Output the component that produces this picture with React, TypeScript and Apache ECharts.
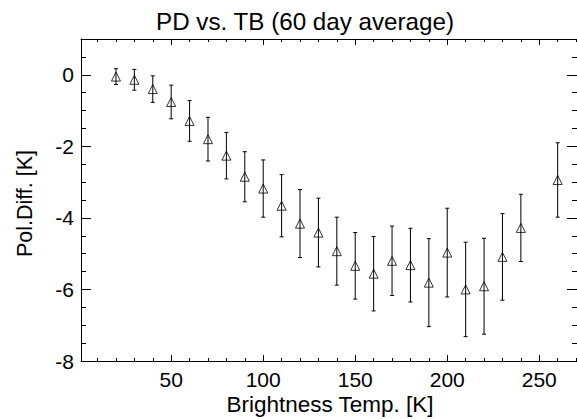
import React, { useEffect, useRef } from "react";
import * as echarts from "echarts";

const temps = [20, 30, 40, 50, 60, 70, 80, 90, 100, 110, 120, 130, 140, 150, 160, 170, 180, 190, 200, 210, 220, 230, 240, 260];
const pdMean = [-0.05, -0.14, -0.4, -0.76, -1.29, -1.8, -2.26, -2.85, -3.18, -3.66, -4.16, -4.41, -4.93, -5.34, -5.56, -5.2, -5.32, -5.81, -4.97, -6.0, -5.91, -5.09, -4.28, -2.94];
const pdErr = [0.22, 0.29, 0.37, 0.47, 0.57, 0.61, 0.65, 0.7, 0.8, 0.87, 0.95, 0.96, 0.95, 0.93, 1.04, 0.97, 1.03, 1.23, 1.24, 1.32, 1.34, 1.21, 0.94, 1.04];

const xMajorTicks = [50, 100, 150, 200, 250];
const xMinorTicks = [10, 20, 30, 40, 60, 70, 80, 90, 110, 120, 130, 140, 160, 170, 180, 190, 210, 220, 230, 240, 260, 270];
const yMajorTicks = [-8, -6, -4, -2, 0];
const yMinorTicks = [-7.5, -7, -6.5, -5.5, -5, -4.5, -3.5, -3, -2.5, -1.5, -1, -0.5, 0.5];

const titleText = "PD vs. TB (60 day average)";
const xName = "Brightness Temp. [K]";
const yName = "Pol.Diff. [K]";

const FONT = "'Liberation Sans', Arial, Helvetica, sans-serif";

export default function App() {
  const ref = useRef<HTMLDivElement>(null);
  useEffect(() => {
    if (!ref.current) return;
    const chart = echarts.init(ref.current, undefined, { renderer: "svg" });
    const xMin = 1;
    const xMax = 270.5;
    const yMin = -8;
    const yMax = 1;
    const lineStyle = { color: "#000", width: 1 };
    const mkX = (position: string, ticks: number[], len: number, showLine: boolean, labels: boolean) => ({
      type: "value",
      position,
      min: xMin,
      max: xMax,
      axisLine: { show: showLine, onZero: false, lineStyle },
      axisTick: { show: true, inside: true, length: len, customValues: ticks, lineStyle },
      axisLabel: labels
        ? { show: true, customValues: ticks, fontSize: 21, fontFamily: FONT, color: "#000", margin: 8 }
        : { show: false },
      splitLine: { show: false },
    });
    const mkY = (position: string, ticks: number[], len: number, showLine: boolean, labels: boolean) => ({
      type: "value",
      position,
      min: yMin,
      max: yMax,
      axisLine: { show: showLine, onZero: false, lineStyle },
      axisTick: { show: true, inside: true, length: len, customValues: ticks, lineStyle },
      axisLabel: labels
        ? { show: true, customValues: ticks, fontSize: 21, fontFamily: FONT, color: "#000", margin: 7 }
        : { show: false },
      splitLine: { show: false },
    });
    const errData = temps.map((t, i) => [t, pdMean[i], pdErr[i]]);
    const pointData = temps.map((t, i) => [t, pdMean[i]]);
    const textStyle = (text: string, size: number) => ({
      text,
      font: `${size}px ${FONT}`,
      fill: "#000",
      align: "center",
      verticalAlign: "middle",
      textAlign: "center",
      textVerticalAlign: "middle",
    });
    chart.setOption({
      animation: false,
      backgroundColor: "#fff",
      grid: { left: 81, top: 39, width: 499.4, height: 322, containLabel: false },
      xAxis: [
        mkX("bottom", xMajorTicks, 6, true, true),
        mkX("bottom", xMinorTicks, 3, false, false),
        mkX("top", xMajorTicks, 6, true, false),
        mkX("top", xMinorTicks, 3, false, false),
      ],
      yAxis: [
        mkY("left", yMajorTicks, 10, true, true),
        mkY("left", yMinorTicks, 5, false, false),
        mkY("right", yMajorTicks, 10, true, false),
        mkY("right", yMinorTicks, 5, false, false),
      ],
      graphic: [
        { type: "text", x: 305, y: 21, style: textStyle(titleText, 24.2) },
        { type: "text", x: 330, y: 404, style: textStyle(xName, 22.5) },
        { type: "text", x: 24.5, y: 203.5, rotation: Math.PI / 2, style: textStyle(yName, 21.5) },
      ],
      series: [
        {
          type: "custom",
          xAxisIndex: 0,
          yAxisIndex: 0,
          data: errData,
          encode: { x: 0, y: 1 },
          renderItem: (params: any, api: any) => {
            const x = api.value(0);
            const m = api.value(1);
            const e = api.value(2);
            const top = api.coord([x, m + e]);
            const bot = api.coord([x, m - e]);
            const hw = 2;
            const st = { stroke: "#000", lineWidth: 1 };
            return {
              type: "group",
              children: [
                { type: "line", shape: { x1: top[0], y1: top[1], x2: bot[0], y2: bot[1] }, style: st },
                { type: "line", shape: { x1: top[0] - hw, y1: top[1], x2: top[0] + hw, y2: top[1] }, style: st },
                { type: "line", shape: { x1: bot[0] - hw, y1: bot[1], x2: bot[0] + hw, y2: bot[1] }, style: st },
              ],
            };
          },
          silent: true,
        },
        {
          type: "scatter",
          xAxisIndex: 0,
          yAxisIndex: 0,
          data: pointData,
          symbol: "triangle",
          symbolSize: 9,
          itemStyle: { color: "rgba(0,0,0,0)", borderColor: "#000", borderWidth: 1 },
          silent: true,
        },
      ],
    });
    return () => chart.dispose();
  }, []);
  return (
    <div
      ref={ref}
      style={{ position: "fixed", left: 0, top: 0, width: 577, height: 419, background: "#fff" }}
    />
  );
}
